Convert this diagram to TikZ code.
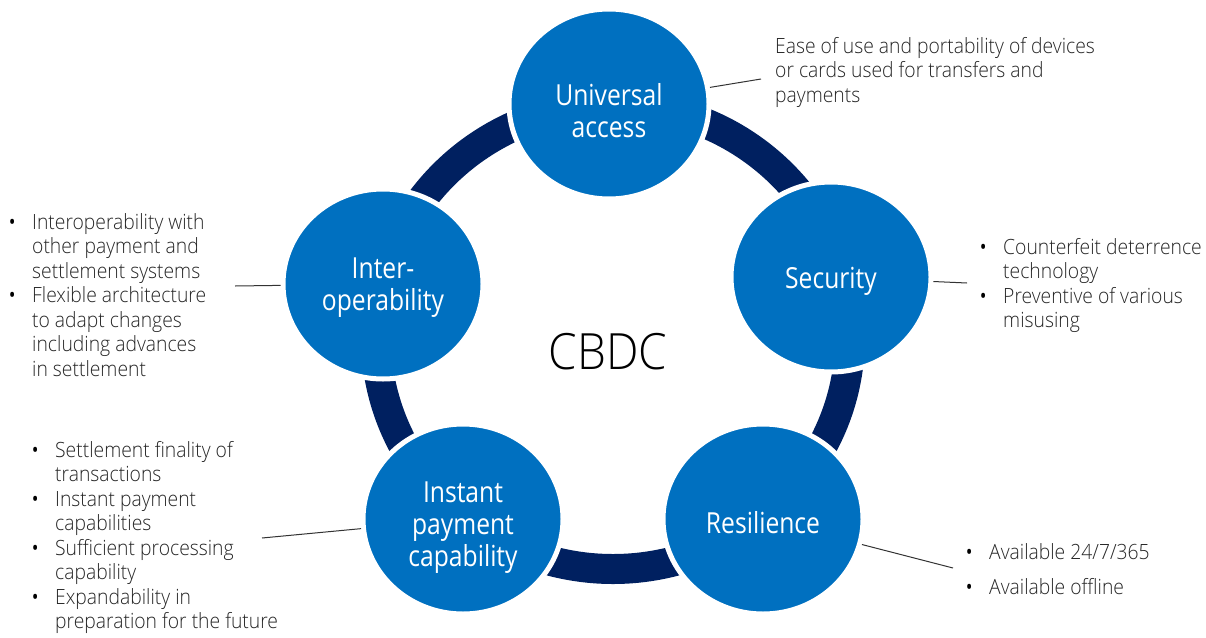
\documentclass[tikz,border=0pt]{standalone}
\usepackage{fontspec}
\setmainfont{Open Sans}[FakeStretch=0.85]
\IfFontExistsTF{Open Sans Light}
  {\newfontfamily\thinfont{Open Sans Light}[FakeStretch=0.92]}
  {\newfontfamily\thinfont{Open Sans}[FakeStretch=0.85]}
\usepackage{tikz}
\usetikzlibrary{shapes.geometric}
\definecolor{hubblue}{HTML}{0070C0}
\definecolor{ringblue}{HTML}{002060}
\definecolor{notegray}{HTML}{262626}
\newcommand{\bul}{\makebox[40pt][c]{\normalfont\color{black}\textbullet}}
\newcommand{\ind}{\hspace*{40pt}}
\tikzset{
    hub/.style={
           ellipse,
           fill=hubblue,
           draw=white, line width=5pt,
           minimum width=200pt,
           minimum height=190pt,
           inner sep=0pt,
           },
    hubtext/.style={
           text=white,
           align=center,
           inner sep=0pt,
           yshift=-4pt,
           font=\fontsize{29}{32}\selectfont,
           },
    note/.style={
           anchor=base west,
           inner sep=0pt,
           text=notegray,
           font=\thinfont\fontsize{21}{24.5}\selectfont,
           },
    ring/.style={draw=ringblue, line width=30pt},
    pin/.style={draw=black!80, line width=1pt},
}

\begin{document}
\begin{tikzpicture}[x=1pt,y=-1pt]
 \useasboundingbox (0,0) rectangle (1206,637);

 % ring behind the five circles
 \draw[ring] (613,337) ellipse [x radius=237, y radius=232];

 \node[hub] (ua) at (609,104) {};
 \node[hub] (sec) at (831,277) {};
 \node[hub] (res) at (763,519) {};
 \node[hub] (ip) at (463,519) {};
 \node[hub] (io) at (383,284) {};

 \node[hubtext, yshift=-3pt] (ua-t) at (ua) {Universal\\access};
 \node[hubtext] (sec-t) at (sec) {Security};
 \node[hubtext] (res-t) at (res) {Resilience};
 \node[hubtext, yshift=-5pt] (ip-t) at (ip) {Instant\\payment\\capability};
 \node[hubtext] (io-t) at (io) {Inter-\\operability};

 \node[text=black, font=\thinfont\fontsize{50}{56}\selectfont] (cbdc) at (608,352) {CBDC};

 % notes
 \node[note] (ua-n) at (775,53)
 {\parbox[t]{420pt}{Ease of use and portability of devices\\
  or cards used for transfers and\\
  payments}};

 \node[note] (sec-n) at (963,254)
 {\parbox[t]{420pt}{\bul Counterfeit deterrence\\
  \ind technology\\
  \bul Preventive of various\\
  \ind misusing}};

 \node[note] (res-n) at (949,559)
 {\parbox[t]{420pt}{\bul Available 24/7/365\\[10.5pt]
  \bul Available offline}};

 \node[note] (ip-n) at (15,457)
 {\parbox[t]{420pt}{\bul Settlement finality of\\
  \ind transactions\\
  \bul Instant payment\\
  \ind capabilities\\
  \bul Sufficient processing\\
  \ind capability\\
  \bul Expandability in\\
  \ind preparation for the future}};

 \node[note] (io-n) at (-8,229)
 {\parbox[t]{420pt}{\bul Interoperability with\\
  \ind other payment and\\
  \ind settlement systems\\
  \bul Flexible architecture\\
  \ind to adapt changes\\
  \ind including advances\\
  \ind in settlement}};

 % pointer lines
 \coordinate (ua-pin) at (761,79);
 \coordinate (sec-pin) at (967,283);
 \coordinate (res-pin) at (953,568);
 \coordinate (ip-pin) at (262,538);
 \coordinate (io-pin) at (235,286);

 \draw[pin] (ua) -- (ua-pin);
 \draw[pin] (sec) -- (sec-pin);
 \draw[pin] (res) -- (res-pin);
 \draw[pin] (ip) -- (ip-pin);
 \draw[pin] (io) -- (io-pin);

\end{tikzpicture}
\end{document}
